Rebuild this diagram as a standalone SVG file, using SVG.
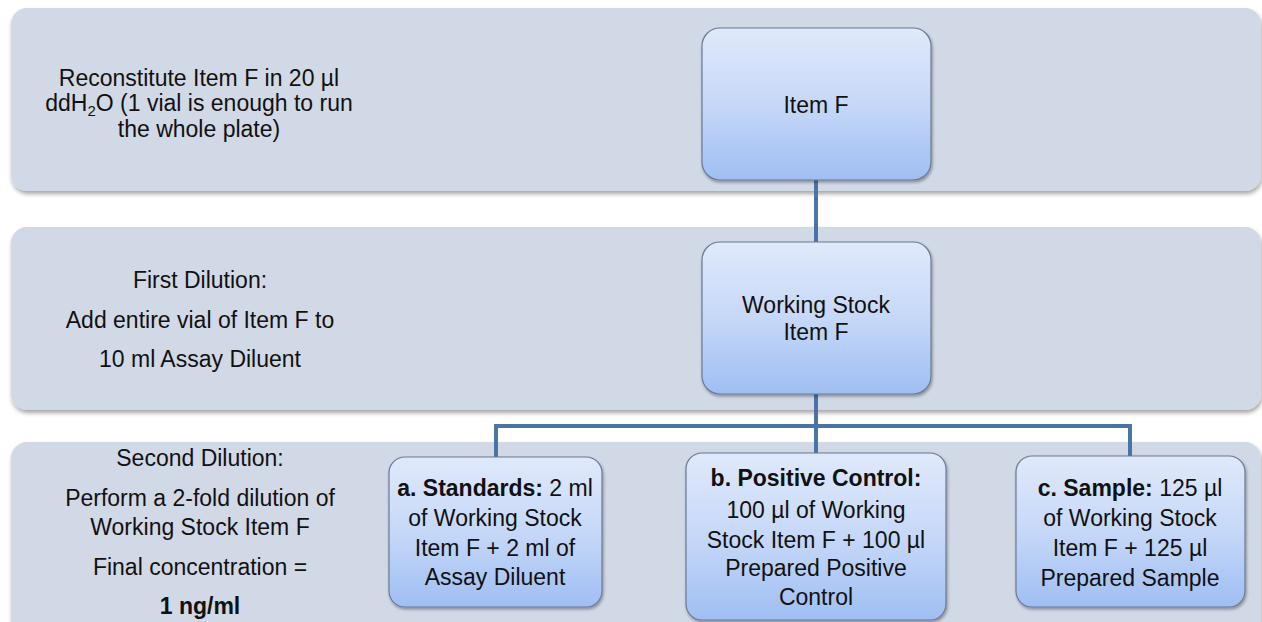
<svg xmlns="http://www.w3.org/2000/svg" width="1262" height="622" viewBox="0 0 1262 622">
<defs>
<linearGradient id="ng" x1="0" y1="0" x2="0" y2="1">
<stop offset="0" stop-color="#e0e9fb"/>
<stop offset="0.5" stop-color="#c6d8f8"/>
<stop offset="1" stop-color="#9fbef3"/>
</linearGradient>
<filter id="sh" x="-5%" y="-5%" width="110%" height="115%">
<feDropShadow dx="1" dy="3" stdDeviation="2" flood-color="#000" flood-opacity="0.35"/>
</filter>
<filter id="nsh" x="-10%" y="-10%" width="120%" height="125%">
<feDropShadow dx="1" dy="2" stdDeviation="1.5" flood-color="#000" flood-opacity="0.35"/>
</filter>
</defs>
<style>
.band{fill:#d1d8e6;filter:url(#sh)}
.node{fill:url(#ng);stroke:#6a7a94;stroke-width:1.2;filter:url(#nsh)}
text{font-family:"Liberation Sans",Arial,sans-serif;font-size:23px;fill:#111;text-anchor:middle}
.b{font-weight:bold}
.con{fill:none;stroke:#4a74a6;stroke-width:4}
</style>
<rect width="1262" height="622" fill="#fff"/>
<g id="band1"><rect class="band" x="11" y="8" width="1250" height="183" rx="16"/>
<text x="199" y="86">Reconstitute Item F in 20 µl</text>
<text x="199" y="111">ddH<tspan font-size="15" dy="5">2</tspan><tspan dy="-5">O (1 vial is enough to run</tspan></text>
<text x="199" y="137">the whole plate)</text>
</g>
<g id="band2"><rect class="band" x="11" y="227" width="1250" height="183" rx="16"/>
<text x="200" y="288">First Dilution:</text>
<text x="200" y="328">Add entire vial of Item F to</text>
<text x="200" y="367">10 ml Assay Diluent</text>
</g>
<g id="band3"><rect class="band" x="11" y="442" width="1250" height="200" rx="16"/>
<text x="200" y="466">Second Dilution:</text>
<text x="200" y="506">Perform a 2-fold dilution of</text>
<text x="200" y="535">Working Stock Item F</text>
<text x="200" y="575">Final concentration =</text>
<text x="200" y="614" class="b">1 ng/ml</text>
</g>
<g id="connectors">
<path class="con" d="M816 180V242M816 394V453M496 426H1130M496 424V457M1130 424V456"/>
</g>
<g id="itemF"><rect class="node" x="702" y="28" width="229" height="152" rx="18"/>
<text x="816" y="113">Item F</text></g>
<g id="workingStock"><rect class="node" x="702" y="242" width="229" height="152" rx="18"/>
<text x="816" y="313">Working Stock</text>
<text x="816" y="340">Item F</text></g>
<g id="standards"><rect class="node" x="389" y="457" width="213" height="150" rx="16"/>
<text x="495" y="496"><tspan class="b">a. Standards:</tspan> 2 ml</text>
<text x="495" y="526">of Working Stock</text>
<text x="495" y="556">Item F + 2 ml of</text>
<text x="495" y="585">Assay Diluent</text></g>
<g id="positiveControl"><rect class="node" x="686" y="453" width="260" height="167" rx="16"/>
<text x="816" y="486" class="b">b. Positive Control:</text>
<text x="816" y="518">100 µl of Working</text>
<text x="816" y="548">Stock Item F + 100 µl</text>
<text x="816" y="576">Prepared Positive</text>
<text x="816" y="605">Control</text></g>
<g id="sample"><rect class="node" x="1016" y="456" width="229" height="151" rx="16"/>
<text x="1130" y="496"><tspan class="b">c. Sample:</tspan> 125 µl</text>
<text x="1130" y="526">of Working Stock</text>
<text x="1130" y="556">Item F + 125 µl</text>
<text x="1130" y="586">Prepared Sample</text></g>
</svg>
